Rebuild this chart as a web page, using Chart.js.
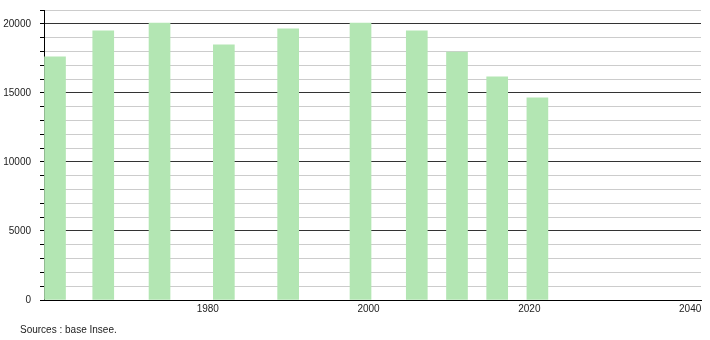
<!DOCTYPE html>
<html>
  <head>
    <title>Population</title>
    <script src="https://cdn.jsdelivr.net/npm/chart.js"></script>
    <style>
      body {
        margin: 0;
        background: #fff;
      }
      .wrap {
        position: relative;
        width: 710px;
        height: 340px;
      }
      .source {
        position: absolute;
        left: 20px;
        top: 324px;
        font: 10px "Liberation Sans", Arial, sans-serif;
        color: #222;
      }
    </style>
  </head>
  <body>
    <div class="wrap">
      <canvas id="popChart" width="710" height="340"></canvas>
      <div class="source">Sources : base Insee.</div>
    </div>

    <script>
      const years = [1961, 1967, 1974, 1982, 1990, 1999, 2006, 2011, 2016, 2021];
      const population = [17610, 19490, 20050, 18480, 19640, 20050, 19490, 17950, 16160, 14640];
      const xTicks = [1980, 2000, 2020, 2040];
      const yLabels = [0, 5000, 10000, 15000, 20000];

      const font = { family: "'Liberation Sans', Arial, sans-serif", size: 10 };

      window.onload = () => {
        new Chart(document.getElementById("popChart").getContext("2d"), {
          type: "bar",
          data: {
            datasets: [
              {
                data: years.map((y, i) => ({ x: y, y: population[i] })),
                backgroundColor: "rgb(179, 230, 179)",
                borderWidth: 0,
                barThickness: 21,
              },
            ],
          },
          options: {
            responsive: false,
            animation: false,
            layout: { padding: { top: 10, right: 9, left: 0, bottom: 0 } },
            plugins: { legend: { display: false }, tooltip: { enabled: false } },
            scales: {
              x: {
                type: "linear",
                offset: false,
                min: 1959.63,
                max: 2041.35,
                grid: { display: false, drawTicks: false, tickLength: 0, offset: false },
                border: { display: true, color: "#000", width: 1 },
                afterBuildTicks: (scale) => {
                  scale.ticks = xTicks.map((v) => ({ value: v }));
                },
                afterFit: (scale) => {
                  scale.height = 40;
                  scale.paddingLeft = 0;
                  scale.paddingRight = 0;
                },
                ticks: {
                  color: "#222",
                  font: font,
                  padding: 3,
                  maxRotation: 0,
                  autoSkip: false,
                  callback: (v) => String(v),
                },
              },
              y: {
                min: 0,
                max: 21000,
                grid: {
                  color: (ctx) =>
                    ctx.tick.value === 0
                      ? "#000"
                      : ctx.tick.value % 5000 === 0
                      ? "#333"
                      : "#cccccc",
                  tickColor: "#000",
                  tickLength: 4,
                },
                border: { display: true, color: "#000", width: 1 },
                afterFit: (scale) => {
                  scale.width = 44;
                  scale.paddingTop = 0;
                  scale.paddingBottom = 0;
                },
                ticks: {
                  stepSize: 1000,
                  color: "#222",
                  font: font,
                  padding: 9,
                  autoSkip: false,
                  callback: (v) => (yLabels.includes(v) ? String(v) : ""),
                },
              },
            },
          },
        });
      };
    </script>
  </body>
</html>
